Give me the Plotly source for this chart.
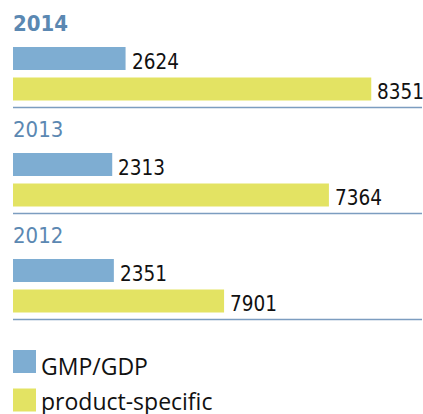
import plotly.graph_objects as go

# ---- data ----
years = ["2014", "2013", "2012"]
series_names = ["GMP/GDP", "product-specific"]
gmp_values = [2624, 2313, 2351]
# bar lengths as drawn in the picture (2012 product-specific bar is drawn shorter than its label)
product_values = [8351, 7364, 4920]
gmp_labels = ["2624", "2313", "2351"]
product_labels = ["8351", "7364", "7901"]

# ---- styling / layout constants ----
W, H = 423, 414
BLUE = "#7eadd2"
YELLOW = "#e3e363"
TITLE_COLOR = "#5b88b2"
LINE_COLOR = "#7c9dc0"
NUM_FONT = "DejaVu Sans Condensed, Liberation Sans, sans-serif"
LEG_FONT = "Open Sans, sans-serif"
NUM_SIZE = 20.5
PX_PER_UNIT = 0.0429
PLOT_W = W - 13 - 1
X_MAX = PLOT_W / PX_PER_UNIT

PITCH = 106
FIRST = 58.5
YEL_OFF = 30.5
TITLE_OFF = -35
SEP_OFF = 49
BAR_W = 23

blue_pos = [FIRST + i * PITCH for i in range(len(years))]
yel_pos = [p + YEL_OFF for p in blue_pos]

fig = go.Figure()
fig.add_trace(go.Bar(x=gmp_values, y=blue_pos, orientation="h", width=BAR_W,
                     marker=dict(color=BLUE, line=dict(width=0)), name=series_names[0],
                     showlegend=False, hoverinfo="skip"))
fig.add_trace(go.Bar(x=product_values, y=yel_pos, orientation="h", width=BAR_W,
                     marker=dict(color=YELLOW, line=dict(width=0)), name=series_names[1],
                     showlegend=False, hoverinfo="skip"))

annotations = []
shapes = []
for i, yr in enumerate(years):
    annotations.append(dict(x=0, y=blue_pos[i] + TITLE_OFF, xref="x", yref="y", text=yr,
                            showarrow=False, xanchor="left", yanchor="middle", xshift=-2,
                            font=dict(family=NUM_FONT, size=22, color=TITLE_COLOR,
                                      weight="bold" if i == 0 else "normal")))
    annotations.append(dict(x=gmp_values[i], y=blue_pos[i], xref="x", yref="y", text=gmp_labels[i],
                            showarrow=False, xanchor="left", yanchor="middle", xshift=5, yshift=-3,
                            borderpad=0, font=dict(family=NUM_FONT, size=NUM_SIZE, color="#111111")))
    annotations.append(dict(x=product_values[i], y=yel_pos[i], xref="x", yref="y", text=product_labels[i],
                            showarrow=False, xanchor="left", yanchor="middle", xshift=5, yshift=-3,
                            borderpad=0, font=dict(family=NUM_FONT, size=NUM_SIZE, color="#111111")))
    shapes.append(dict(type="line", xref="paper", yref="y", x0=0, x1=1,
                       y0=blue_pos[i] + SEP_OFF, y1=blue_pos[i] + SEP_OFF,
                       line=dict(color=LINE_COLOR, width=1.5)))

# custom legend
leg_y = [361.5, 400]
leg_shift = [-4, -1]
for name, col, yy, ys in zip(series_names, [BLUE, YELLOW], leg_y, leg_shift):
    shapes.append(dict(type="rect", xref="x", yref="y", x0=0, x1=23 / PX_PER_UNIT,
                       y0=yy - 11.5, y1=yy + 11.5, fillcolor=col, line=dict(width=0)))
    annotations.append(dict(x=0, y=yy, xref="x", yref="y", text=name, showarrow=False,
                            xanchor="left", yanchor="middle", xshift=27, yshift=ys,
                            borderpad=0,
                            font=dict(family=LEG_FONT, size=23, color="#111111")))

fig.update_layout(
    width=W, height=H, margin=dict(l=13, r=1, t=0, b=0),
    paper_bgcolor="white", plot_bgcolor="white",
    xaxis=dict(range=[0, X_MAX], visible=False, fixedrange=True),
    yaxis=dict(range=[H, 0], visible=False, fixedrange=True),
    annotations=annotations, shapes=shapes, barmode="overlay",
)
fig.write_html("out.html", config={"displayModeBar": False},
               post_script="document.body.style.margin='0';")
